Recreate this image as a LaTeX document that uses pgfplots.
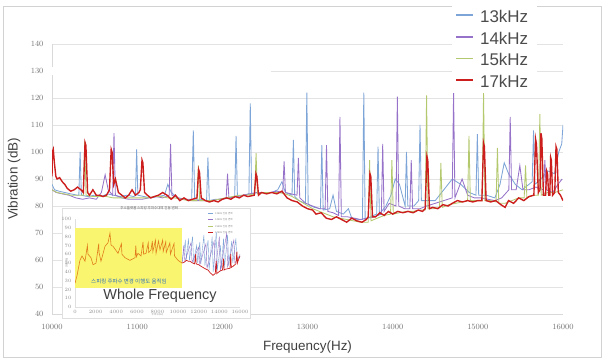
\documentclass[border=0pt]{standalone}
\usepackage{pgfplots}
\pgfplotsset{compat=1.18}
\usepackage{fontspec}
\setmainfont{Liberation Sans}
\newfontfamily\kr{Noto Sans CJK KR}
\definecolor{cblue}{RGB}{125,165,215}
\definecolor{cpurple}{RGB}{150,115,200}
\definecolor{cgreen}{RGB}{180,200,110}
\definecolor{cred}{RGB}{205,30,30}
\definecolor{corange}{RGB}{225,125,30}
\definecolor{cyellow}{RGB}{250,245,110}
\definecolor{ckr}{RGB}{45,110,190}
\begin{document}
\begin{tikzpicture}[x=1bp,y=1bp]
\path[use as bounding box] (0,0) rectangle (610,359);
\draw[gray!35, line width=0.8bp] (3,2) rectangle (601,353);
\begin{axis}[
  at={(52bp,45bp)}, anchor=south west,
  scale only axis, width=511bp, height=270bp,
  xmin=10000, xmax=16000, ymin=40, ymax=140,
  xtick={10000,11000,12000,13000,14000,15000,16000},
  ytick={40,50,60,70,80,90,100,110,120,130,140},
  scaled x ticks=false,
  xticklabel style={/pgf/number format/1000 sep={}, yshift=-7bp},
  yticklabel style={xshift=-5bp},
  axis x line*=bottom, axis y line*=left,
  axis line style={gray!30, line width=0.6bp},
  ymajorgrids, grid style={gray!22, line width=0.9bp},
  tick style={draw=none},
  ticklabel style={font=\fontsize{8.5}{9}\selectfont, text=black!55},
  xlabel={Frequency(Hz)},
  xlabel style={font=\fontsize{13.5}{15}\selectfont, text=black!75, at={(axis description cs:0.5,-0.122)}, anchor=center},
  ylabel={Vibration (dB)},
  ylabel style={font=\fontsize{13.5}{15}\selectfont, text=black!75, at={(axis description cs:-0.074,0.5)}, anchor=center},
  legend style={at={(axis description cs:0.783,1.141)}, anchor=north west, draw=none, fill=white,
    font=\fontsize{17}{19}\selectfont, text=black!70, row sep=4pt, inner xsep=3pt, inner ysep=2pt,
    nodes={inner xsep=6pt}},
  legend cell align=left,
  legend image post style={line width=1.8pt, yshift=2pt},
]
\fill[white] (axis cs:10000,128.5) rectangle (axis cs:12570,131.5);
\addplot[cblue, line width=0.85pt] coordinates {
(10000,88) (10030,86) (10080,85.5) (10150,85) (10220,84.5) (10300,84) (10315,84) (10330,100) (10345,84) (10420,83.5) (10500,84) (10580,83.5) (10650,84.5) (10720,84) (10800,83.5) (10880,84) (10960,83.5) (10980,84) (10994,101) (11008,84) (11080,83.5) (11160,83) (11240,83.5) (11320,84) (11360,88) (11400,85) (11480,83) (11560,82.5) (11640,82.5) (11659,108) (11675,82.5) (11740,82.5) (11815,82) (11831,98) (11847,82) (11920,82.5) (12000,82.5) (12080,83) (12145,83.5) (12161,106) (12177,83.5) (12250,84) (12312,84.5) (12328,118) (12344,84.5) (12420,85) (12500,85) (12580,85) (12650,86) (12700,89) (12740,85) (12818,84) (12834,104.5) (12850,83.5) (12900,82) (12976,81) (12992,122) (13008,80.5) (13080,79.5) (13152,79) (13168,102.5) (13184,78.5) (13260,79) (13300,84) (13340,78) (13420,77) (13480,79) (13520,75.5) (13600,75) (13645,75) (13661,122) (13677,75) (13740,76) (13812,77) (13828,102) (13844,77) (13920,80) (13980,84) (14030,90) (14080,88) (14146,80) (14162,100) (14178,80) (14250,80) (14305,82) (14321,110) (14337,82) (14400,82) (14500,82) (14600,86) (14700,90) (14800,88) (14900,85) (14978,84) (14994,106.6) (15010,84) (15100,84) (15200,83) (15260,88) (15310,96) (15360,92) (15440,88) (15520,86) (15600,88) (15638,89) (15654,108) (15670,88) (15740,90) (15820,93) (15900,92) (15950,100) (15985,103) (16000,110)
};
\addlegendentry{13kHz}
\addplot[cpurple, line width=0.85pt] coordinates {
(10000,86) (10050,85) (10120,84.5) (10200,84) (10280,83) (10360,82.5) (10440,83) (10520,82.5) (10580,85) (10624,91.6) (10660,86) (10712,84) (10728,107) (10744,84) (10820,83) (10900,82.5) (10980,82.5) (11060,82.5) (11140,83) (11220,83.5) (11300,83) (11376,84) (11392,103) (11408,84) (11480,83) (11560,82.5) (11640,82) (11720,82) (11800,82) (11880,82) (11960,82.5) (12045,83) (12061,92) (12077,83) (12160,83.5) (12240,84) (12320,84.5) (12400,85) (12480,85) (12560,85) (12640,85.5) (12709,85) (12725,96.5) (12741,85) (12877,84) (12893,97.8) (12909,83) (12980,81) (13060,80) (13140,79) (13207,79) (13223,102.5) (13239,78) (13300,77.5) (13365,76.5) (13381,113) (13397,76) (13470,76) (13550,75.5) (13620,75) (13700,75.5) (13780,76) (13867,77) (13883,103) (13899,78) (13960,81) (14039,80) (14055,120.5) (14071,80) (14140,79) (14202,79) (14218,97) (14234,79) (14320,79) (14400,80) (14500,81) (14600,82) (14699,83) (14715,122) (14731,83) (14815,90) (14880,84) (14960,83) (15040,83) (15120,82.5) (15200,82) (15280,83) (15364,86) (15380,113) (15396,86) (15450,86) (15493,95) (15530,86) (15600,86) (15680,87) (15771,86) (15787,97) (15803,86) (15880,85) (15940,88) (15990,90)
};
\addlegendentry{14kHz}
\addplot[cgreen, line width=0.85pt] coordinates {
(10000,86) (10060,85) (10140,84.5) (10220,84) (10300,84) (10368,84) (10384,104) (10400,84) (10480,83.5) (10560,83.5) (10640,83.5) (10720,83) (10800,83) (10880,83) (10960,83) (11040,83) (11120,83) (11200,83.5) (11280,83.5) (11360,83) (11440,83) (11520,82.5) (11600,82) (11702,82) (11718,95) (11734,82) (11800,82) (11880,82) (11960,82.5) (12040,83) (12120,83.5) (12200,84) (12280,84) (12380,84.5) (12396,99.6) (12412,84.5) (12500,85) (12580,85) (12660,85) (12740,84.5) (12820,83.5) (12900,82) (12980,80.5) (13060,79) (13140,78) (13220,77) (13300,76) (13380,75.5) (13460,75) (13540,74.5) (13620,74) (13713,74) (13729,97) (13745,74.5) (13820,75.5) (13900,76.5) (13975,77) (13991,97) (14007,77) (14080,77.5) (14160,78) (14240,78) (14320,78.5) (14382,78.5) (14398,121) (14414,79) (14480,79) (14550,79.5) (14566,96) (14582,79.5) (14660,80.5) (14740,81) (14820,81.5) (14880,82) (14896,106) (14912,82) (14980,82) (15051,82) (15067,122) (15083,82) (15150,82) (15214,81.5) (15230,101.5) (15246,81) (15320,81) (15400,82) (15480,83) (15544,83) (15560,95) (15576,83) (15650,84) (15712,84) (15728,114) (15744,84) (15820,85) (15900,85) (16000,86)
};
\addlegendentry{15kHz}
\addplot[cred, line width=1.4pt] coordinates {
(10000,91) (10005,100) (10015,101) (10028,96) (10045,91) (10060,90) (10090,90.5) (10120,89) (10150,88) (10180,86.5) (10220,85.5) (10260,86) (10300,87) (10340,86) (10368,85) (10388,103.5) (10398,102.5) (10418,85) (10440,84) (10480,86) (10520,84) (10560,84) (10600,83.5) (10640,84) (10675,86) (10695,101) (10705,100) (10725,88) (10745,90) (10780,85) (10820,84) (10860,83) (10900,84) (10940,86) (10980,84) (11020,85) (11037,86) (11057,97) (11067,96) (11087,85) (11120,84) (11160,83) (11200,83.5) (11250,84) (11300,85) (11350,84) (11400,82.5) (11450,84) (11500,82) (11550,83) (11600,82) (11650,82.5) (11702,83) (11722,93.5) (11732,92.5) (11752,83) (11800,82) (11850,81.5) (11900,82) (11950,81.5) (12000,82.5) (12050,83) (12100,82.5) (12150,83.5) (12200,83) (12250,84) (12300,83.5) (12375,84) (12395,92) (12405,91) (12425,84) (12460,85) (12520,84.5) (12580,85) (12640,84.5) (12700,85.5) (12760,83) (12820,82) (12880,81.5) (12940,80) (13000,79) (13060,78.5) (13100,77) (13160,77.5) (13220,75.5) (13280,75) (13340,76) (13400,75) (13460,74) (13520,75.5) (13580,74.5) (13640,74) (13690,75) (13713,76) (13733,92) (13743,91) (13763,76) (13800,76) (13850,77.5) (13900,76.5) (13950,78) (14000,77) (14060,78) (14120,77.5) (14180,78) (14240,77.5) (14300,78.5) (14350,78) (14382,79) (14402,98.4) (14412,97) (14432,79) (14470,79.5) (14530,79) (14590,80.5) (14650,80) (14700,81) (14760,82) (14820,81.5) (14880,82) (14940,81.5) (15000,82) (15047,82) (15067,103.3) (15077,102) (15097,82) (15150,81.5) (15210,82) (15270,80.5) (15320,79.5) (15360,82) (15420,81) (15480,83) (15540,82) (15600,83.5) (15658,84) (15678,104.8) (15688,103) (15710,85) (15730,86) (15741,107) (15751,105) (15770,84) (15795,84) (15808,93) (15818,92) (15832,84) (15845,84) (15855,98) (15863,97) (15878,84) (15903,85) (15918,102) (15928,101) (15945,85) (15970,84) (16000,82)
};
\addlegendentry{17kHz}
\end{axis}
% inset
\draw[fill=white, draw=gray!25, line width=0.6bp] (62,41) rectangle (250,151);
\begin{axis}[
  at={(75bp,52bp)}, anchor=south west,
  scale only axis, width=165bp, height=88bp,
  xmin=0, xmax=16000, ymin=0, ymax=100,
  xtick={0,2000,4000,6000,8000,10000,12000,14000,16000},
  ytick={0,10,20,30,40,50,60,70,80,90,100},
  scaled x ticks=false,
  xticklabel style={/pgf/number format/1000 sep={}},
  ticklabel style={font=\fontsize{2.5}{3}\selectfont, text=black!45},
  tick style={draw=none},
  axis x line*=bottom, axis y line*=left,
  axis line style={gray!25, line width=0.4bp},
  title={주소플랫폼 스피링 주파수대역 진동 변화},
  title style={font=\kr\fontsize{3.5}{4}\selectfont, text=black!60, at={(axis description cs:0.45,1.06)}, anchor=center},
  xlabel={주파수(Hz)}, xlabel style={font=\kr\fontsize{2.5}{3}\selectfont, text=black!45, at={(axis description cs:0.5,-0.09)}, anchor=center},
  ylabel={진동(dB)}, ylabel style={font=\kr\fontsize{2.5}{3}\selectfont, text=black!45, at={(axis description cs:-0.05,0.5)}, anchor=center},
  legend style={at={(axis description cs:0.8,1.11)}, anchor=north west, draw=none, fill=none,
    font=\kr\fontsize{2.5}{3}\selectfont, text=black!45, row sep=-1pt, inner sep=0.5pt},
  legend cell align=left,
  legend image code/.code={\draw[#1, line width=0.5pt] (0bp,1bp) -- (5bp,1bp);},
]
\addplot[fill=cyellow, draw=none, forget plot] coordinates {(0,21.6) (10380,21.6) (10380,89.8) (0,89.8)} -- cycle;
\addplot[corange, line width=0.6pt, forget plot] coordinates {
(0,27) (200,36) (480,53) (680,58) (970,52) (1200,70) (1260,60) (1550,56) (1750,48) (2040,50) (2300,72) (2330,62) (2520,52) (2910,69) (3200,73) (3390,84) (3500,70) (3690,69) (4170,61) (4500,72) (4550,60) (4850,56) (5330,53) (5820,56) (5900,70) (5950,57) (6110,61) (6400,58) (6600,74) (6650,60) (6890,61) (7100,73) (7150,62) (7370,65) (7500,75) (7550,63) (7800,76) (7860,61) (8100,75) (8240,65) (8500,76) (8550,63) (8800,74) (8850,62) (9200,73) (9250,60) (9600,72) (9650,58) (9990,53) (10380,50)
};
\addplot[cblue, line width=0.4pt, forget plot] coordinates {
(10400,52) (10700,75) (10800,54) (11000,78) (11100,53) (11400,80) (11500,52) (11800,70) (11900,50) (12100,74) (12200,49) (12500,82) (12600,47) (12900,76) (13000,42) (13300,80) (13400,40) (13700,85) (13800,42) (14100,70) (14200,44) (14400,78) (14500,45) (14800,82) (14900,47) (15200,75) (15300,50) (15600,78) (15700,53) (16000,60)
};
\addplot[cpurple, line width=0.4pt, forget plot] coordinates {
(10400,51) (10550,70) (10650,52) (11250,73) (11350,51) (12000,68) (12100,48) (12700,72) (12800,44) (13500,75) (13600,40) (14000,80) (14100,42) (14700,83) (14800,46) (15400,76) (15500,50) (16000,58)
};
\addplot[cred, line width=0.7pt, forget plot] coordinates {
(10380,50) (10600,51) (10800,53) (11000,52) (11150,52) (11400,50) (11600,49) (11700,60) (11750,49) (12000,48) (12121,47) (12400,45) (12700,43) (12900,42) (13100,39) (13382,36) (13600,38) (13700,52) (13750,38) (14061,41) (14300,42) (14400,55) (14450,42) (14600,43) (15030,44) (15100,60) (15150,45) (15300,46) (15600,49) (15700,63) (15750,50) (15800,52) (15900,55) (16000,58)
};
\addlegendimage{cblue}\addlegendentry{13kHz 진동 변화}
\addlegendimage{cpurple}\addlegendentry{14kHz 진동 변화}
\addlegendimage{cgreen}\addlegendentry{15kHz 진동 변화}
\addlegendimage{cred}\addlegendentry{17kHz 진동 변화}
\node[font=\kr\fontsize{5.5}{6}\selectfont, text=ckr] at (rel axis cs:0.327,0.295) {스피링 주파수 변경 이행도 움직임};
\node[font=\fontsize{14.5}{16}\selectfont, text=black!75] at (rel axis cs:0.515,0.125) {Whole Frequency};
\end{axis}
\end{tikzpicture}
\end{document}
